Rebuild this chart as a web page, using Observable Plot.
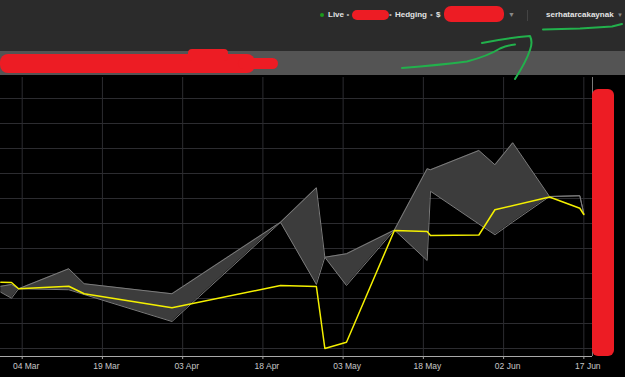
<!DOCTYPE html>
<html>
<head>
<meta charset="utf-8">
<script src="https://cdn.jsdelivr.net/npm/d3@7"></script>
<script src="https://cdn.jsdelivr.net/npm/@observablehq/plot@0.6"></script>
<style>
  html, body { margin: 0; padding: 0; background: #000; width: 625px; height: 377px; overflow: hidden; }
  body { position: relative; font-family: "Liberation Sans", Arial, sans-serif; }
  .abs { position: absolute; }
  #header { left: 0; top: 0; width: 625px; height: 51px; background: #2b2b2b; }
  #band { left: 0; top: 51px; width: 625px; height: 24px; background: #545454; }
  #chart { left: 0; top: 75px; width: 625px; height: 302px; }
  .ht { position: absolute; top: 10px; line-height: 10px; font-size: 8px; font-weight: bold; color: #e4e4e4; white-space: nowrap; }
  .sep { color: #aaa; font-weight: normal; }
  .red { position: absolute; background: #ed1c24; }
</style>
</head>
<body>
<div id="header" class="abs"></div>
<div id="band" class="abs"></div>
<div id="chart" class="abs"></div>

<!-- header texts -->
<div class="abs" style="left:320px;top:13px;width:4px;height:4px;border-radius:2px;background:#1c9a1c"></div>
<span class="ht" style="left:328px">Live</span>
<span class="ht sep" style="left:346.5px">•</span>
<span class="ht sep" style="left:389px">•</span>
<span class="ht" style="left:395px">Hedging</span>
<span class="ht sep" style="left:430px">•</span>
<span class="ht" style="left:436px">$</span>
<span class="ht sep" style="left:508px;font-size:7px;color:#888">▼</span>
<div class="abs" style="left:526.5px;top:10px;width:1px;height:11px;background:#444"></div>
<span class="ht" style="left:546px">serhatarcakaynak</span>
<span class="ht sep" style="left:617px;font-size:6px;color:#888">▼</span>

<!-- redaction marks -->
<div class="red" style="left:352px;top:10px;width:37px;height:10px;border-radius:5px"></div>
<div class="red" style="left:444px;top:6px;width:60px;height:16px;border-radius:7px"></div>
<div class="red" style="left:0px;top:54px;width:255px;height:19px;border-radius:8px"></div>
<div class="red" style="left:238px;top:58px;width:40px;height:11px;border-radius:6px"></div>
<div class="red" style="left:188px;top:48.5px;width:40px;height:12px;border-radius:4px"></div>
<div class="red" style="left:592px;top:89px;width:22px;height:267px;border-radius:6px"></div>

<svg class="abs" style="left:0;top:0" width="625" height="90">
  <g fill="none" stroke="#22b14c" stroke-width="2" stroke-linecap="round" stroke-linejoin="round">
    <path d="M543,29.5 L580,28.5 L612,26.5 L622,24"/>
    <path d="M402,68 Q440,65 467,61.5 Q488,56 500,48.5 Q508,45 515,44.5"/>
    <path d="M482,43 Q507,38 530,36 Q533,42 530,50 Q526,62 515,79"/>
  </g>
</svg>

<script>
// ---- data (y in thousands) ----
const bandDates = [
  "2019-02-28T00:00Z", "2019-03-02T00:00Z", "2019-03-03T08:00Z", "2019-03-12T17:00Z",
  "2019-03-15T14:00Z", "2019-04-01T00:00Z", "2019-04-21T07:00Z", "2019-04-28T00:00Z",
  "2019-04-29T14:00Z", "2019-05-03T15:00Z", "2019-05-12T14:00Z", "2019-05-18T17:00Z",
  "2019-05-19T08:00Z", "2019-05-28T09:00Z", "2019-05-31T09:00Z", "2019-06-03T17:00Z",
  "2019-06-10T14:00Z", "2019-06-16T06:00Z", "2019-06-17T00:00Z"
];
const upperValues = [22.49, 22.56, 22.39, 23.19, 22.59, 22.19, 25.05, 26.43, 23.65, 23.79,
                     24.74, 27.19, 27.15, 27.92, 27.35, 28.23, 26.08, 26.11, 25.39];
const lowerValues = [22.25, 22.01, 22.39, 22.35, 22.16, 21.08, 25.05, 22.56, 23.65, 22.52,
                     24.74, 23.52, 26.29, 24.98, 24.55, 25.06, 26.08, 26.11, 25.39];

const lineDates = [
  "2019-02-28T00:00Z", "2019-03-02T00:00Z", "2019-03-03T08:00Z", "2019-03-12T17:00Z",
  "2019-03-15T14:00Z", "2019-04-01T00:00Z", "2019-04-21T07:00Z", "2019-04-28T00:00Z",
  "2019-04-29T14:00Z", "2019-05-03T15:00Z", "2019-05-12T14:00Z", "2019-05-18T17:00Z",
  "2019-05-19T08:00Z", "2019-05-28T09:00Z", "2019-05-31T09:00Z", "2019-06-10T14:00Z",
  "2019-06-16T06:00Z", "2019-06-17T00:00Z"
];
const lineValues = [22.65, 22.64, 22.39, 22.49, 22.19, 21.63, 22.52, 22.48, 20.00, 20.25,
                    24.72, 24.68, 24.52, 24.54, 25.55, 26.06, 25.61, 25.36];

const xTickDates = ["2019-03-04T00:00Z", "2019-03-19T00:00Z", "2019-04-03T00:00Z", "2019-04-18T00:00Z",
                    "2019-05-03T00:00Z", "2019-05-18T00:00Z", "2019-06-02T00:00Z", "2019-06-17T00:00Z"];
const xTickLabels = ["04 Mar", "19 Mar", "03 Apr", "18 Apr", "03 May", "18 May", "02 Jun", "17 Jun"];
const yTicks = [20, 21, 22, 23, 24, 25, 26, 27, 28, 29, 30];

// ---- tables ----
const band = bandDates.map((d, i) => ({date: new Date(d), upper: upperValues[i], lower: lowerValues[i]}));
const line = lineDates.map((d, i) => ({date: new Date(d), value: lineValues[i]}));
const ticks = xTickDates.map(d => new Date(d));
const labelOf = new Map(ticks.map((d, i) => [+d, xTickLabels[i]]));

const xDomain = [new Date("2019-02-27T22:38Z"), new Date("2019-06-18T14:53Z")];
const yDomain = [19.68, 30.84];

const chart = Plot.plot({
  width: 625,
  height: 302,
  marginLeft: 0,
  marginRight: 33,
  marginTop: 2,
  marginBottom: 21,
  style: {background: "#000", color: "#c8c8c8", fontFamily: "'Liberation Sans', Arial, sans-serif", fontSize: "8.5px", overflow: "visible"},
  x: {type: "utc", domain: xDomain, axis: null},
  y: {domain: yDomain, axis: null},
  marks: [
    Plot.gridY(yTicks, {stroke: "#2c2c30", strokeOpacity: 1}),
    Plot.gridX(ticks, {stroke: "#2c2c30", strokeOpacity: 1}),
    Plot.areaY(band, {x: "date", y1: "lower", y2: "upper", fill: "#3c3c3c", fillOpacity: 1}),
    Plot.lineY(band, {x: "date", y: "upper", stroke: "#7c7c7c", strokeWidth: 1}),
    Plot.lineY(band, {x: "date", y: "lower", stroke: "#7c7c7c", strokeWidth: 1}),
    Plot.lineY(line, {x: "date", y: "value", stroke: "#f4f000", strokeWidth: 1.5}),
    Plot.ruleY([yDomain[0]], {stroke: "#a8a8a8", strokeWidth: 1}),
    Plot.ruleX([xDomain[1]], {stroke: "#7a7a7a", strokeWidth: 1}),
    Plot.axisX(ticks, {tickSize: 3, fill: "none", stroke: "#a0a0a0"}),
    Plot.axisX(ticks, {tickSize: 0, tickPadding: 6, dx: 4, fill: "#c8c8c8", tickFormat: d => labelOf.get(+d)}),
    Plot.axisY(yTicks, {anchor: "right", tickSize: 4, tickPadding: 3, stroke: "#7a7a7a", fill: "#c8c8c8", tickFormat: d => String(d)})
  ]
});
document.getElementById("chart").appendChild(chart);
// keep the redaction marks above the chart
document.querySelectorAll(".red").forEach(el => { el.style.zIndex = 5; });
</script>
</body>
</html>
